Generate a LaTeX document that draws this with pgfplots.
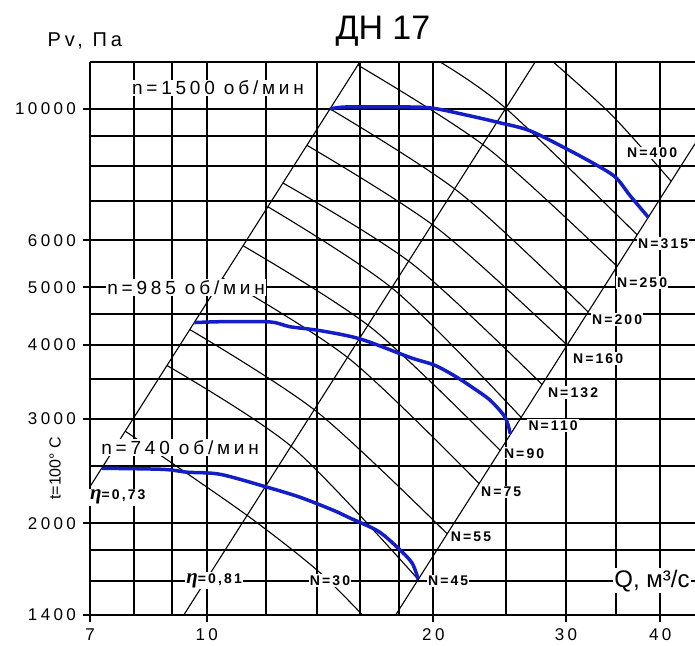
\documentclass[border=0pt]{standalone}
\usepackage{fontspec}
\setmainfont{Liberation Sans}
\newfontfamily\serifgr{Liberation Serif}
\usepackage{pgfplots}
\pgfplotsset{compat=1.18}
\definecolor{curveblue}{RGB}{20,30,200}
\newcommand{\tk}{\fontsize{8.5}{10}\selectfont\addfontfeature{LetterSpace=20}}
\newcommand{\nlab}{\fontsize{9.5}{11}\selectfont\addfontfeature{LetterSpace=20}}
\newcommand{\Nlab}{\fontsize{7}{8}\selectfont\bfseries\addfontfeature{LetterSpace=15}}
\newcommand{\etab}{{\serifgr\bfseries\itshape\fontsize{10.5}{10}\selectfont η}}
\begin{document}
\begin{tikzpicture}[
    lab/.style={fill=white, inner sep=0.6pt},
    thin line/.style={black, line width=0.55pt},
    fan/.style={curveblue, line width=1.75pt, smooth},
]
\begin{axis}[
    width=302.5pt, height=276.5pt, scale only axis,
    xmode=log, ymode=log,
    xmin=7, xmax=44.5, ymin=1400, ymax=12000,
    axis y line*=left,
    xtick pos=left, ytick pos=left,
    xtick={7,10,20,30,40}, xticklabels={7,10,20,30,40},
    ytick={1400,2000,3000,4000,5000,6000,10000},
    yticklabels={1400,2000,3000,4000,5000,6000,10000},
    extra x ticks={8,9,12,14,16,18,25,35},
    extra x tick labels={},
    extra y ticks={1600,1800,2500,3500,4500,7000,8000,9000},
    extra y tick labels={},
    extra tick style={major tick length=0pt, grid=major},
    grid=major,
    major grid style={black, line width=1.0pt},
    minor tick length=0pt,
    tick align=outside, major tick length=3.5pt,
    tick style={black, line width=1.0pt},
    axis line style={black, line width=1.0pt},
    ticklabel style={font=\tk},
    clip=false,
]
\coordinate (SW) at (rel axis cs:0,0);
\coordinate (NE) at (rel axis cs:1,1);

% efficiency lines and right boundary
\addplot[thin line] coordinates {(7,2305) (15.97,12000)};
\addplot[thin line] coordinates {(9.325,1400) (27.3,12000)};
\addplot[thin line] coordinates {(17.82,1400) (44.5,8733)};

% motor power lines
\addplot[thin line, smooth] coordinates {(7.80,2858) (11.21,2079) (14.01,1667) (16.1,1400)};
\addplot[thin line, smooth] coordinates {(8.86,3689) (13.00,2684) (19.09,1607)};
\addplot[thin line, smooth] coordinates {(9.5,4242) (14.01,3082) (20.86,1919)};
\addplot[thin line, smooth] coordinates {(10.5,5182) (15.48,3784) (23.0,2333)};
\addplot[thin line, smooth] coordinates {(11.18,5875) (16.56,4268) (24.53,2654)};
\addplot[thin line, smooth] coordinates {(12.06,6836) (17.76,4945) (26.15,3016)};
\addplot[thin line, smooth] coordinates {(12.63,7497) (18.77,5470) (27.88,3428)};
\addplot[thin line, smooth] coordinates {(13.59,8680) (20.23,6291) (30.10,3996)};
\addplot[thin line, smooth] coordinates {(14.58,10000) (21.63,7234) (32.10,4544)};
\addplot[thin line, smooth] coordinates {(15.88,11852) (23.61,8582) (35.07,5424)};
\addplot[thin line, smooth] coordinates {(20.41,12000) (25,10000) (37.29,6132)};
\addplot[thin line, smooth] coordinates {(28.84,12000) (34.54,9747) (41.37,7548)};

% fan curves
\addplot[fan] coordinates {(14.58,10000) (15.3,10075) (17.5,10075) (19.8,10040) (22.37,9732) (24.52,9472) (26.88,9183) (30.38,8500) (33.6,7923) (35.07,7624) (36.5,7136) (38.56,6570)};
\addplot[fan] coordinates {(9.63,4360) (10.5,4375) (12.14,4370) (12.9,4290) (14.15,4225) (16.0,4090) (18.63,3807) (20.1,3692) (21.5,3524) (22.52,3390) (23.79,3224) (24.9,3017) (25.3,2830)};
\addplot[fan] coordinates {(7.26,2475) (8.75,2465) (9.42,2438) (10.42,2418) (12.03,2300) (13.3,2212) (14.71,2104) (15.5,2040) (16.89,1939) (17.95,1816) (18.74,1713) (19.09,1607)};

% labels
\node[lab] at (axis cs:10.35,10848) {\nlab n=1500 об/мин};
\node[lab] at (axis cs:9.39,5000) {\nlab n=985 об/мин};
\node[lab] at (axis cs:9.22,2686) {\nlab n=740 об/мин};
\node[lab] at (axis cs:7.62,2212) {\Nlab\etab=0,73};
\node[lab] at (axis cs:10.23,1600) {\Nlab\etab=0,81};
\node[lab] at (axis cs:14.58,1600) {\Nlab N=30};
\node[lab] at (axis cs:20.92,1600) {\Nlab N=45};
\node[lab] at (axis cs:22.44,1895) {\Nlab N=55};
\node[lab] at (axis cs:24.6,2256) {\Nlab N=75};
\node[lab] at (axis cs:26.39,2624) {\Nlab N=90};
\node[lab] at (axis cs:28.84,2924) {\Nlab N=110};
\node[lab] at (axis cs:30.65,3324) {\Nlab N=132};
\node[lab] at (axis cs:33.09,3793) {\Nlab N=160};
\node[lab] at (axis cs:35.07,4413) {\Nlab N=200};
\node[lab] at (axis cs:37.86,5093) {\Nlab N=250};
\node[lab] at (axis cs:40.38,5925) {\Nlab N=315};
\node[lab] at (axis cs:39.03,8430) {\Nlab N=400};
\node[lab] at (axis cs:39.03,1600) {\fontsize{12}{14}\selectfont Q, м³/с};
\node at (axis cs:17.14,13530) {\fontsize{17}{19}\selectfont ДН 17};
\node at (axis cs:6.89,13020) {\fontsize{10}{12}\selectfont\addfontfeature{LetterSpace=20}Pv, Па};
\node[rotate=90] at (axis cs:6.29,2475) {\fontsize{8}{9}\selectfont t=100° C};
\end{axis}
\pgfresetboundingbox
\path[use as bounding box] ([xshift=-45pt,yshift=-15.5pt]SW) rectangle ([yshift=31pt]NE);
\end{tikzpicture}
\end{document}
